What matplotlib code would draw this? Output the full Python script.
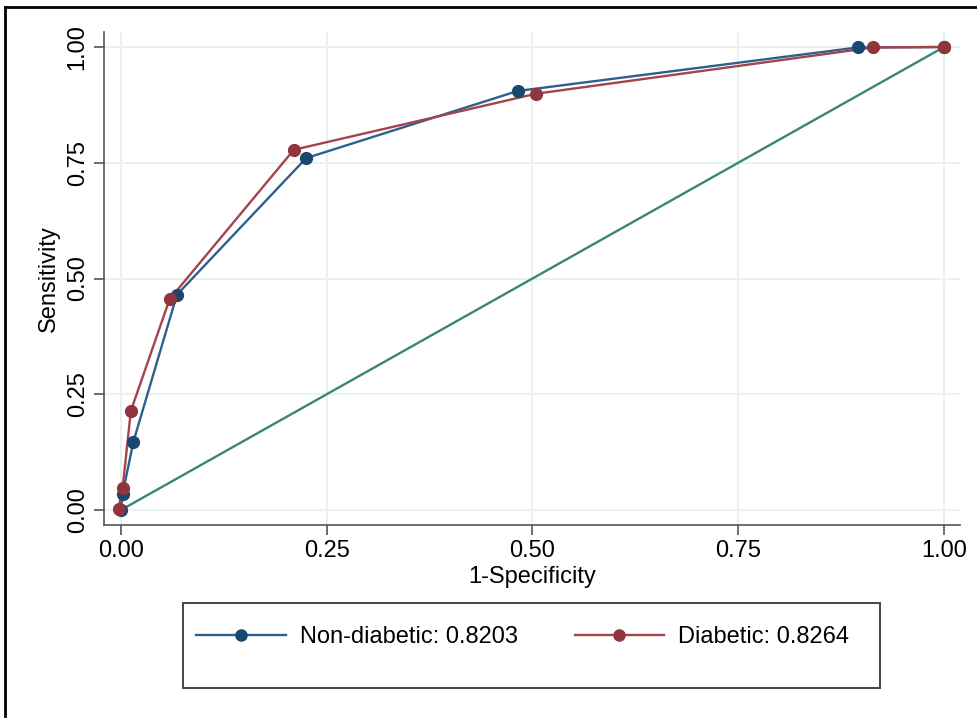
import matplotlib
matplotlib.use("Agg")
import matplotlib.pyplot as plt
from matplotlib.lines import Line2D

plt.rcParams['font.family'] = ['Liberation Sans', 'DejaVu Sans']

# ROC data
nondiab_fpr = [0.000, 0.002, 0.015, 0.068, 0.225, 0.482, 0.895, 1.000]
nondiab_tpr = [0.000, 0.035, 0.147, 0.465, 0.760, 0.905, 0.999, 1.000]
diab_fpr = [-0.003, 0.002, 0.012, 0.059, 0.210, 0.504, 0.914, 1.000]
diab_tpr = [0.003, 0.048, 0.214, 0.455, 0.778, 0.899, 0.999, 1.000]
ref_x = [0, 1]
ref_y = [0, 1]
ticks = [0.00, 0.25, 0.50, 0.75, 1.00]
tick_labels = ["0.00", "0.25", "0.50", "0.75", "1.00"]
labels = ["Non-diabetic: 0.8203", "Diabetic: 0.8264"]

blue = '#1a476f'
blue_line = '#2f5f8c'
red = '#90353b'
red_line = '#a5434c'
green = '#3b8574'
grid_c = '#e8f1f3'

FS = 17

W, H = 978, 720
fig = plt.figure(figsize=(W / 100, H / 100), dpi=100)
ax = fig.add_axes([104 / W, 1 - 525 / H, (960 - 104) / W, (525 - 32) / H])

ax.plot(ref_x, ref_y, color=green, lw=1.7, zorder=2)
ax.plot(nondiab_fpr, nondiab_tpr, color=blue_line, lw=1.7, zorder=3)
ax.plot(diab_fpr, diab_tpr, color=red_line, lw=1.7, zorder=3)
ax.plot(nondiab_fpr, nondiab_tpr, 'o', color=blue, ms=8.5, zorder=4)
ax.plot(diab_fpr, diab_tpr, 'o', color=red, ms=8.5, zorder=5)

ax.set_xlim((103 - 120) / 824, (960 - 120) / 824)
ax.set_ylim(-(525 - 510) / 463, (510 - 32) / 463)
ax.set_xticks(ticks)
ax.set_xticklabels(tick_labels)
ax.set_yticks(ticks)
ax.set_yticklabels(tick_labels, rotation=90, va='center')
ax.grid(True, color=grid_c, lw=1.5)
ax.set_axisbelow(True)
for s in ['top', 'right']:
    ax.spines[s].set_visible(False)
for s in ['left', 'bottom']:
    ax.spines[s].set_color('#555555')
    ax.spines[s].set_linewidth(1.2)
ax.tick_params(direction='out', length=7, width=1.2, color='#555555',
               labelsize=FS, pad=4)
ax.set_xlabel("1-Specificity", fontsize=FS, labelpad=3)
ax.set_ylabel("Sensitivity", fontsize=FS, labelpad=5)

# legend box
fig.patches.append(plt.Rectangle((183 / W, 1 - 688 / H), (880 - 183) / W, (688 - 603) / H,
                                 transform=fig.transFigure, fill=False,
                                 edgecolor='#444444', lw=1.4))
handles = [Line2D([], [], color=blue_line, lw=1.7, marker='o', markersize=8,
                  markerfacecolor=blue, markeredgecolor=blue),
           Line2D([], [], color=red_line, lw=1.7, marker='o', markersize=8,
                  markerfacecolor=red, markeredgecolor=red)]
fig.legend(handles, labels, loc='center left',
           bbox_to_anchor=(196 / W, 1 - 637 / H), ncol=2, frameon=False,
           fontsize=FS, handlelength=3.8, handletextpad=0.6, columnspacing=2.4,
           borderpad=0, borderaxespad=0)

# partial outer frame (top and left)
fig.add_artist(Line2D([5 / W, 1.0], [1 - 7 / H, 1 - 7 / H], transform=fig.transFigure,
                      color='black', lw=2))
fig.add_artist(Line2D([5 / W, 5 / W], [1 - 7 / H, 1 - 716 / H], transform=fig.transFigure,
                      color='black', lw=2))

fig.savefig("out.png", dpi=100)
